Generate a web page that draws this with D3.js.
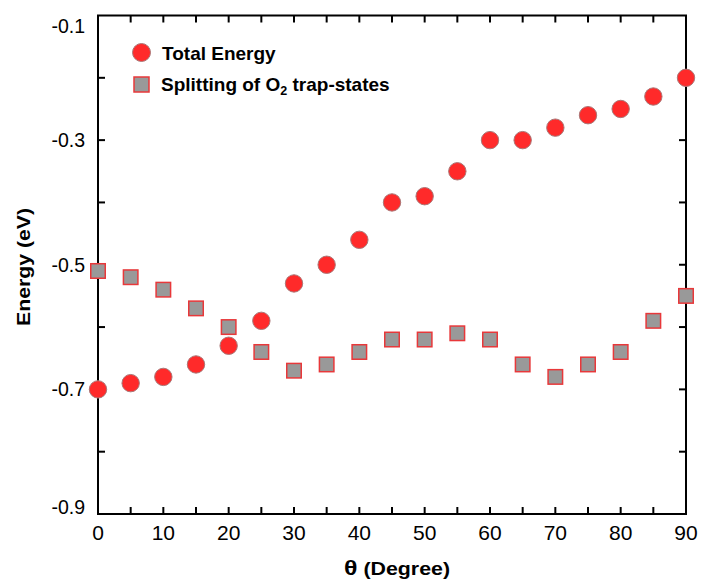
<!DOCTYPE html>
<html>
<head>
<meta charset="utf-8">
<style>
body { margin: 0; background: #fff; }
text { font-family: "Liberation Sans", Arial, sans-serif; fill: #000; }
.tick-label { font-size: 21px; }
.ytick-label { font-size: 19.5px; }
.axis-title { font-size: 18px; font-weight: bold; }
.legend text { font-size: 19px; font-weight: bold; }
</style>
</head>
<body>
<svg width="703" height="585"></svg>
<script src="https://cdn.jsdelivr.net/npm/d3@7"></script>
<script>
var angles = [0, 5, 10, 15, 20, 25, 30, 35, 40, 45, 50, 55, 60, 65, 70, 75, 80, 85, 90];
var totalEnergy = [-0.70, -0.69, -0.68, -0.66, -0.63, -0.59, -0.53, -0.50, -0.46, -0.40,
                   -0.39, -0.35, -0.30, -0.30, -0.28, -0.26, -0.25, -0.23, -0.20];
var splitting = [-0.51, -0.52, -0.54, -0.57, -0.60, -0.64, -0.67, -0.66, -0.64, -0.62,
                 -0.62, -0.61, -0.62, -0.66, -0.68, -0.66, -0.64, -0.59, -0.55];
var xTickLabels = [0, 10, 20, 30, 40, 50, 60, 70, 80, 90];
var yTickLabels = ["-0.1", "-0.3", "-0.5", "-0.7", "-0.9"];

var svg = d3.select("svg");
var plotL = 98, plotR = 686, plotT = 15.5, plotB = 514;

var x = d3.scaleLinear().domain([0, 90]).range([plotL, plotR]);
var y = d3.scaleLinear().domain([-0.9, -0.1]).range([plotB, plotT]);

var tickLen = 7;
var minorX = d3.range(5, 90, 5);
var minorY = d3.range(-0.8, -0.15, 0.1);

var axes = svg.append("g").attr("stroke", "#000").attr("stroke-width", 2);

// inward ticks on all four sides
axes.selectAll(".tb").data(minorX).enter().append("line")
    .attr("x1", function(d) { return x(d); }).attr("x2", function(d) { return x(d); })
    .attr("y1", plotB).attr("y2", plotB - tickLen);
axes.selectAll(".tt").data(minorX).enter().append("line")
    .attr("x1", function(d) { return x(d); }).attr("x2", function(d) { return x(d); })
    .attr("y1", plotT).attr("y2", plotT + tickLen);
axes.selectAll(".tl").data(minorY).enter().append("line")
    .attr("y1", function(d) { return y(d); }).attr("y2", function(d) { return y(d); })
    .attr("x1", plotL).attr("x2", plotL + tickLen);
axes.selectAll(".tr").data(minorY).enter().append("line")
    .attr("y1", function(d) { return y(d); }).attr("y2", function(d) { return y(d); })
    .attr("x1", plotR).attr("x2", plotR - tickLen);

axes.append("rect")
    .attr("x", plotL).attr("y", plotT)
    .attr("width", plotR - plotL).attr("height", plotB - plotT)
    .attr("fill", "none");

svg.append("g").selectAll("text").data(xTickLabels).enter().append("text")
    .attr("class", "tick-label")
    .attr("x", function(d) { return x(d); })
    .attr("y", plotB + 26)
    .attr("text-anchor", "middle")
    .text(function(d) { return d; });

// end labels sit a little inside the frame, as in the original
svg.append("g").selectAll("text").data(yTickLabels).enter().append("text")
    .attr("class", "ytick-label")
    .attr("x", plotL - 13)
    .attr("y", function(d) {
      var c = Math.min(Math.max(y(+d), plotT + 10), plotB - 7);
      return c + 7;
    })
    .attr("text-anchor", "end")
    .text(function(d) { return d; });

// axis titles
var xt = svg.append("text").attr("class", "axis-title")
    .attr("x", 397).attr("y", 575).attr("text-anchor", "middle")
    .attr("textLength", 106).attr("lengthAdjust", "spacingAndGlyphs");
xt.append("tspan").style("font-size", "21px").text("θ");
xt.append("tspan").text(" (Degree)");

svg.append("text").attr("class", "axis-title")
    .attr("transform", "translate(30,267) rotate(-90)")
    .attr("text-anchor", "middle")
    .attr("textLength", 118).attr("lengthAdjust", "spacingAndGlyphs")
    .text("Energy (eV)");

// series
var pts = angles.map(function(a, i) { return { a: a, e: totalEnergy[i], s: splitting[i] }; });
var sq = 14.5;

svg.append("g").selectAll("rect").data(pts).enter().append("rect")
    .attr("x", function(d) { return x(d.a) - sq / 2; })
    .attr("y", function(d) { return y(d.s) - sq / 2; })
    .attr("width", sq).attr("height", sq)
    .attr("fill", "#999")
    .attr("stroke", "#e8383a").attr("stroke-width", 1.5);

svg.append("g").selectAll("circle").data(pts).enter().append("circle")
    .attr("cx", function(d) { return x(d.a); })
    .attr("cy", function(d) { return y(d.e); })
    .attr("r", 8.7)
    .attr("fill", "#ff2a2a")
    .attr("stroke", "#a77")
    .attr("stroke-width", 1);

// legend
var legend = svg.append("g").attr("class", "legend");
legend.append("circle").attr("cx", 141.5).attr("cy", 52.5).attr("r", 9)
    .attr("fill", "#ff2a2a").attr("stroke", "#a77").attr("stroke-width", 1);
legend.append("text").attr("x", 162).attr("y", 60).text("Total Energy");
legend.append("rect").attr("x", 134).attr("y", 77).attr("width", 15).attr("height", 15)
    .attr("fill", "#999").attr("stroke", "#e8383a").attr("stroke-width", 1.5);
var lt = legend.append("text").attr("x", 161).attr("y", 91);
lt.append("tspan").text("Splitting of O");
lt.append("tspan").attr("dy", 4).style("font-size", "12.5px").text("2");
lt.append("tspan").attr("dy", -4).text(" trap-states");
</script>
</body>
</html>
